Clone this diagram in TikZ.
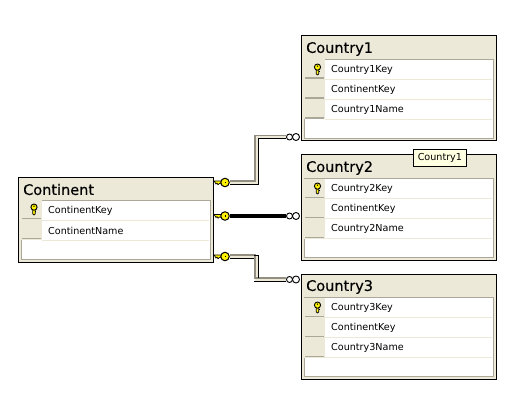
\documentclass[tikz,border=0pt]{standalone}
\usepackage{fontspec}
\setmainfont{DejaVu Sans}
\newfontfamily\titlefont[FakeBold=0.35]{DejaVu Sans}
\definecolor{hdr}{HTML}{ECE9D8}
\definecolor{edge}{HTML}{ACA899}
\definecolor{keyy}{HTML}{FFF200}
\definecolor{tip}{HTML}{FFFFE1}
\tikzset{
  x=1pt,y=-1pt,
  tbl/.style={draw=black,line width=1pt,fill=hdr,anchor=north west,inner sep=0,minimum width=195pt,minimum height=105pt},
  inner/.style={draw=edge,line width=1pt,fill=white,anchor=north west,inner sep=0,minimum width=189pt,minimum height=79pt},
  title/.style={anchor=west,inner sep=0,font=\titlefont\fontsize{14.5}{16}\selectfont},
  rowtxt/.style={anchor=west,inner sep=0,font=\fontsize{9.6}{11}\selectfont},
  relband/.style={line width=4pt,draw=hdr},
  relgray/.style={line width=1.2pt,draw=edge!85!black},
  relblack/.style={line width=.9pt,draw=black},
  circ/.style={circle,draw=black,fill=white,line width=0.9pt,inner sep=0},
  lkey/.style={circle,draw=black,fill=keyy,line width=1pt,inner sep=0,minimum size=8.5pt},
}
\newcommand{\tablerow}[3]{%
  \fill[hdr] (#1,#2) rectangle (#1+20.5,#2+20);
  \fill[edge] (#1+1,#2+18) rectangle (#1+20,#2+19.2);
  \draw[hdr,line width=1pt] (#1+20.5,#2+20) -- (#1+#3,#2+20);
}
\newcommand{\rowkey}[2]{%
  \draw[black,fill=keyy,line width=.7pt] (#1-1.2,#2-1) -- (#1-1.2,#2+4.5) -- (#1,#2+5.5) -- (#1+1.2,#2+4.5) -- (#1+1.2,#2-1) -- cycle;
  \draw[black,line width=.7pt] (#1+1,#2+2.2) -- (#1+2.4,#2+2.2);
  \draw[black,fill=keyy,line width=.9pt] (#1,#2-2.4) circle (3.1pt);
  \fill[black] (#1,#2-3.4) circle (.8pt);
}
\newcommand{\linkkey}[3]{%
  \draw[black,fill=keyy,line width=.7pt] (#2-3,#3-1.6) -- (#2-11,#3-1.6) -- (#2-9,#3+1.5) -- (#2-8,#3+.6) -- (#2-7,#3+2.2) -- (#2-5.5,#3+1) -- (#2-3,#3+1.6) -- cycle;
  \node[lkey] (#1) at (#2,#3) {};
  \fill[black] (#2-.4,#3-.8) rectangle (#2+1,#3+.8);
}
\begin{document}
\begin{tikzpicture}
\useasboundingbox (0,0) rectangle (522,409);
\fill[white] (0,0) rectangle (522,409);

% Link ends
\linkkey{ka}{225}{182.5}
\linkkey{kb}{225}{216}
\linkkey{kc}{225}{256.5}
\node[circ,minimum size=6pt] (ca1) at (289.5,137) {};
\node[circ,minimum size=7pt] (ca2) at (296,137) {};
\node[circ,minimum size=6pt] (cb1) at (289.5,216) {};
\node[circ,minimum size=7pt] (cb2) at (296,216) {};
\node[circ,minimum size=6pt] (cc1) at (289.5,279.5) {};
\node[circ,minimum size=7pt] (cc2) at (296,279.5) {};
\coordinate (va) at (256.5,137);
\coordinate (vc) at (256.5,279.5);

% Connector Continent - Country1
\draw[relband] (ka.east) -| (va) -- (ca1.west);
\draw[relgray] ([shift={(0,-1.5)}]ka.east) -| ([shift={(-1.5,-1.5)}]va) -- ([shift={(0,-1.5)}]ca1.west);
\draw[relblack] ([shift={(0,1.5)}]ka.east) -| ([shift={(1.5,1.5)}]va) -- ([shift={(0,1.5)}]ca1.west);
% Connector Continent - Country2
\draw[line width=3.6pt,black] (kb.east) -- (cb1.west);
% Connector Continent - Country3
\draw[relband] (kc.east) -| (vc) -- (cc1.west);
\draw[relgray] ([shift={(0,-1.5)}]kc.east) -| ([shift={(-1.5,-1.5)}]vc) -- ([shift={(0,-1.5)}]cc1.west);
\draw[relblack] ([shift={(0,1.5)}]kc.east) -- ([shift={(-2.5,1.5)}]kc.east -| vc);
\draw[relblack] ([shift={(-2.5,-1.5)}]kc.east -| vc) -- ([shift={(1.5,-1.5)}]kc.east -| vc) -- ([shift={(1.5,-1.5)}]vc);
\draw[relblack] ([shift={(-2.5,1.5)}]vc) -- ([shift={(0,1.5)}]cc1.west);

% Continent
\node[tbl,minimum height=85pt] (continent) at (17.5,176.5) {};
\node[title] (tcontinent) at (23,189.5) {Continent};
\node[inner,minimum height=59pt] (icontinent) at (20.5,199.5) {};
\tablerow{21}{200}{188}
\tablerow{21}{220}{188}
\rowkey{34}{209.5}
\node[rowtxt] (r1) at (48,210.5) {ContinentKey};
\node[rowtxt] (r2) at (48,230.5) {ContinentName};

% Country1
\node[tbl] (c1) at (300.5,35.5) {};
\node[title] (tc1) at (306,49) {Country1};
\node[inner] (ic1) at (303.5,59) {};
\tablerow{304}{59.5}{188}
\tablerow{304}{79.5}{188}
\tablerow{304}{99.5}{188}
\rowkey{317.5}{69.5}
\node[rowtxt] (c1a) at (331,69.5) {Country1Key};
\node[rowtxt] (c1b) at (331,89.5) {ContinentKey};
\node[rowtxt] (c1c) at (331,109.5) {Country1Name};

% Country2
\node[tbl] (c2) at (300.5,154.5) {};
\node[title] (tc2) at (306,168) {Country2};
\node[inner] (ic2) at (303.5,178) {};
\tablerow{304}{178.5}{188}
\tablerow{304}{198.5}{188}
\tablerow{304}{218.5}{188}
\rowkey{317.5}{188.5}
\node[rowtxt] (c2a) at (331,188.5) {Country2Key};
\node[rowtxt] (c2b) at (331,208.5) {ContinentKey};
\node[rowtxt] (c2c) at (331,228.5) {Country2Name};
\node[draw=black,line width=.8pt,fill=tip,anchor=north west,inner sep=0,minimum width=53pt,minimum height=16pt,font=\fontsize{9.6}{11}\selectfont] (tip) at (413,149.5) {Country1};

% Country3
\node[tbl] (c3) at (300.5,273.5) {};
\node[title] (tc3) at (306,287) {Country3};
\node[inner] (ic3) at (303.5,297) {};
\tablerow{304}{297.5}{188}
\tablerow{304}{317.5}{188}
\tablerow{304}{337.5}{188}
\rowkey{317.5}{307.5}
\node[rowtxt] (c3a) at (331,307.5) {Country3Key};
\node[rowtxt] (c3b) at (331,327.5) {ContinentKey};
\node[rowtxt] (c3c) at (331,347.5) {Country3Name};
\end{tikzpicture}
\end{document}
